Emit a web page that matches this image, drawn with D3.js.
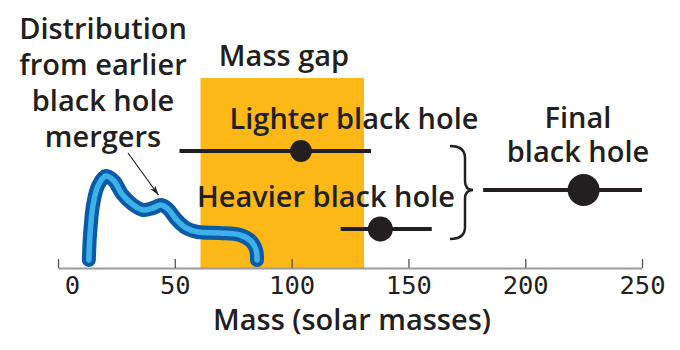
<!DOCTYPE html>
<html>
<head>
<meta charset="utf-8">
<script src="https://cdn.jsdelivr.net/npm/d3@7"></script>
<style>
  body { margin: 0; background: #fff; }
  svg { display: block; }
  .lbl { font-family: "Open Sans", sans-serif; font-weight: 600; font-size: 29px; fill: #231f20; }
  .tick text { font-family: "DejaVu Sans Mono", monospace; font-size: 25.5px; fill: #231f20; }
</style>
</head>
<body>
<div id="chart"></div>
<script>
// ---- data ----
const xTicks = [0, 50, 100, 150, 200, 250];
const massGap = [61, 131];

// black holes: best estimate + range (solar masses)
const holes = ["Lighter", "Final", "Heavier"];
const holeMass = [104, 225, 138];
const holeLow = [52, 182, 121];
const holeHigh = [134, 250, 160];

// distribution from earlier mergers (relative density)
const distMass = [13.2, 13.7, 15.0, 17.1, 20.5, 24.0, 27.4, 31.7, 36.4, 40.7, 44.1, 47.1, 50.5, 54.8, 59.9, 69.3, 77.9, 82.6, 84.8, 85.2];
const distDensity = [0.08, 0.33, 0.63, 0.82, 0.92, 0.87, 0.74, 0.64, 0.58, 0.60, 0.63, 0.59, 0.49, 0.40, 0.36, 0.35, 0.33, 0.27, 0.18, 0.08];

// ---- layout ----
const W = 680, H = 350;
const baseY = 268;

const x = d3.scaleLinear().domain([0, 250]).range([58, 642]);
const yDen = d3.scaleLinear().domain([0, 1]).range([baseY, 168]);
const yRow = d3.scalePoint().domain(holes).range([151, 229]);
const r = d3.scaleSqrt().domain([0, 225]).range([0, 16]);

const svg = d3.select("#chart").append("svg")
    .attr("width", W)
    .attr("height", H);

// mass gap band
svg.append("rect")
    .attr("x", x(massGap[0]))
    .attr("y", 78)
    .attr("width", x(massGap[1]) - x(massGap[0]))
    .attr("height", baseY - 78)
    .attr("fill", "#fbb817");

// axis
const axis = svg.append("g")
    .attr("transform", "translate(0," + baseY + ")")
    .call(d3.axisBottom(x).tickValues(xTicks).tickSizeInner(-9).tickSizeOuter(0).tickPadding(0));
axis.select(".domain").attr("stroke", "#9b9b9b").attr("stroke-width", 2);
axis.selectAll(".tick line").attr("stroke", "#555").attr("stroke-width", 1.3);
axis.selectAll(".tick text").attr("y", 25.5).attr("dy", 0);
axis.selectAll(".tick text").filter(d => d === 0).attr("x", 14);

// distribution curve
const line = d3.line()
    .x((d, i) => x(distMass[i]))
    .y((d, i) => yDen(d))
    .curve(d3.curveCatmullRom.alpha(0.5));

svg.append("path")
    .datum(distDensity)
    .attr("d", line)
    .attr("fill", "none")
    .attr("stroke", "#0a5aa6")
    .attr("stroke-width", 14)
    .attr("stroke-linecap", "round")
    .attr("stroke-linejoin", "round");
svg.append("path")
    .datum(distDensity)
    .attr("d", line)
    .attr("fill", "none")
    .attr("stroke", "#3fb1ea")
    .attr("stroke-width", 5.5)
    .attr("stroke-linecap", "round")
    .attr("stroke-linejoin", "round");

// ranges + dots
svg.selectAll(".range")
    .data(holes)
    .join("line")
    .attr("class", "range")
    .attr("x1", (d, i) => x(holeLow[i]))
    .attr("x2", (d, i) => x(holeHigh[i]))
    .attr("y1", d => yRow(d))
    .attr("y2", d => yRow(d))
    .attr("stroke", "#231f20")
    .attr("stroke-width", 4);

svg.selectAll(".dot")
    .data(holes)
    .join("circle")
    .attr("class", "dot")
    .attr("cx", (d, i) => x(holeMass[i]))
    .attr("cy", d => yRow(d))
    .attr("r", (d, i) => r(holeMass[i]))
    .attr("fill", "#231f20");

// brace joining lighter + heavier
const bx = 465, tip = yRow("Final"), bTop = yRow("Lighter") - 5, bBot = yRow("Heavier") + 10;
svg.append("path")
    .attr("d", `M${bx - 15},${bTop} Q${bx},${bTop} ${bx},${bTop + 12} L${bx},${tip - 9} Q${bx},${tip} ${bx + 8},${tip}
                Q${bx},${tip} ${bx},${tip + 9} L${bx},${bBot - 12} Q${bx},${bBot} ${bx - 15},${bBot}`)
    .attr("fill", "none")
    .attr("stroke", "#231f20")
    .attr("stroke-width", 2.5);

// arrow to the distribution
const ax1 = 128, ay1 = 153, ax2 = x(43), ay2 = yDen(0.73);
svg.append("line")
    .attr("x1", ax1).attr("y1", ay1)
    .attr("x2", ax2).attr("y2", ay2)
    .attr("stroke", "#231f20")
    .attr("stroke-width", 1.2);
const ang = Math.atan2(ay2 - ay1, ax2 - ax1);
const ah = 10, aw = 0.3;
svg.append("path")
    .attr("d", `M${ax2},${ay2} L${ax2 - ah * Math.cos(ang - aw)},${ay2 - ah * Math.sin(ang - aw)} L${ax2 - ah * 0.7 * Math.cos(ang)},${ay2 - ah * 0.7 * Math.sin(ang)} L${ax2 - ah * Math.cos(ang + aw)},${ay2 - ah * Math.sin(ang + aw)} Z`)
    .attr("fill", "#231f20");

// labels
function label(lines, cx, y0, lh) {
  const t = svg.append("text").attr("class", "lbl").attr("text-anchor", "middle");
  lines.forEach((s, i) => t.append("tspan").attr("x", cx).attr("y", y0 + i * lh).text(s));
}
label(["Distribution", "from earlier", "black hole", "mergers"], 103, 39, 36);
label(["Mass gap"], 284, 66, 0);
label(["Lighter black hole"], 354, 129, 0);
label(["Heavier black hole"], 326, 207, 0);
label(["Final", "black hole"], 578, 128, 34);
label(["Mass (solar masses)"], 352, 330, 0);
</script>
</body>
</html>
